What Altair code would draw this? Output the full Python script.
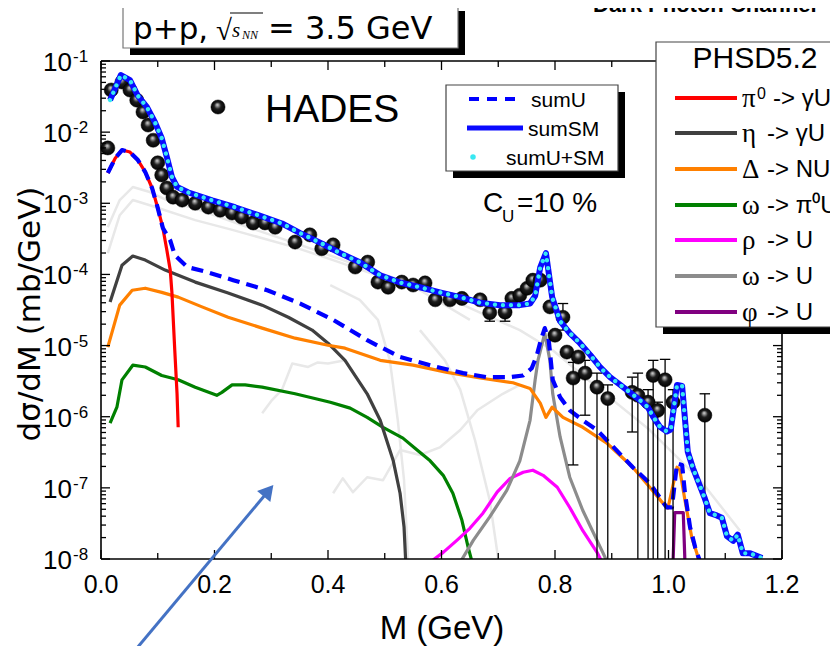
import altair as alt
import pandas as pd

# ---------------- data ----------------
sumSM_M = [0.016,0.035,0.051,0.065,0.081,0.095,0.107,0.116,0.125,0.134,0.153,0.196,0.236,0.277,0.319,
           0.351,0.386,0.421,0.456,0.492,0.527,0.562,0.597,0.633,0.668,0.703,0.738,0.756,0.765,0.774,
           0.784,0.795,0.809,0.826,0.844,0.862,0.879,0.897,0.915,0.932,0.950,0.964,0.973,0.985,0.997,
           1.004,1.015,1.024,1.034,1.043,1.064,1.073,1.085,1.094,1.103,1.114,1.122,1.131,1.144,1.165]
sumSM_Y = [2.82e-2,6.35e-2,5.4e-2,3.24e-2,2.24e-2,1.38e-2,8.2e-3,4.47e-3,2.34e-3,1.7e-3,1.43e-3,1.1e-3,8.8e-4,6.8e-4,5.2e-4,
           3.8e-4,2.8e-4,2.0e-4,1.48e-4,9.7e-5,7.7e-5,6.6e-5,5.6e-5,4.8e-5,4.0e-5,3.7e-5,3.7e-5,3.9e-5,5.0e-5,1.26e-4,
           2.0e-4,4.8e-5,2.2e-5,1.5e-5,1.08e-5,7.4e-6,5.0e-6,3.6e-6,2.8e-6,2.2e-6,1.7e-6,1.35e-6,1.0e-6,7.2e-7,6.2e-7,
           6.6e-7,2.8e-6,2.7e-6,3.2e-7,1.9e-7,7.1e-8,4.4e-8,4.1e-8,3.8e-8,2.1e-8,1.8e-8,2.2e-8,1.2e-8,1.2e-8,1.03e-8]
# sumU+SM dots lie on the sumSM line in the picture
sumUSM_M = sumSM_M
sumUSM_Y = sumSM_Y

sumU_M = [0.012,0.025,0.037,0.051,0.065,0.078,0.090,0.100,0.109,0.122,0.130,0.152,0.187,0.233,0.293,
          0.351,0.409,0.469,0.527,0.592,0.638,0.680,0.721,0.744,0.759,0.768,0.775,0.782,0.789,0.796,
          0.809,0.826,0.849,0.874,0.897,0.937,0.967,0.997,1.006,1.015,1.024,1.029,1.038,1.047,1.056]
sumU_Y = [2.66e-3,4.3e-3,5.6e-3,5.25e-3,4.05e-3,2.75e-3,1.64e-3,8.6e-4,4.5e-4,3.0e-4,1.87e-4,1.27e-4,1.08e-4,8.3e-5,6.0e-5,
          3.9e-5,2.3e-5,1.19e-5,6.9e-6,5.0e-6,4.1e-6,3.6e-6,3.6e-6,3.8e-6,4.8e-6,7.3e-6,1.19e-5,1.76e-5,1.19e-5,3.3e-6,
          1.88e-6,1.23e-6,8.9e-7,6.5e-7,4.2e-7,1.95e-7,1.16e-7,5.3e-8,5.3e-8,2.2e-7,2.1e-7,8.4e-8,2.8e-8,1.46e-8,9e-9]

pi0_M = [0.012,0.025,0.037,0.051,0.065,0.078,0.090,0.100,0.109,0.116,0.122,0.125,0.130,0.134,0.136]
pi0_Y = [2.66e-3,4.3e-3,5.6e-3,5.25e-3,4.05e-3,2.75e-3,1.64e-3,8.6e-4,4.5e-4,2.2e-4,1.15e-4,5.5e-5,8.6e-6,2.1e-6,7.1e-7]

eta_M = [0.016,0.037,0.056,0.078,0.113,0.166,0.224,0.284,0.330,0.372,0.400,0.430,0.469,0.492,0.515,0.527,0.534,0.537]
eta_Y = [4.1e-5,1.35e-4,1.81e-4,1.59e-4,1.15e-4,7.8e-5,5.5e-5,3.7e-5,2.5e-5,1.65e-5,1.08e-5,6.2e-6,2.1e-6,8.9e-7,2.4e-7,8.4e-8,2.8e-8,9e-9]

delta_M = [0.012,0.033,0.055,0.078,0.107,0.136,0.178,0.224,0.284,0.342,0.400,0.430,0.492,0.550,0.610,0.668,0.726,
           0.756,0.774,0.784,0.795,0.814,0.849,0.892,0.937,0.967,0.990,0.999,1.015,1.020,1.029,1.041,1.050,1.054]
delta_Y = [9.5e-6,3.7e-5,6.0e-5,6.4e-5,5.6e-5,4.8e-5,3.5e-5,2.5e-5,1.76e-5,1.27e-5,1.01e-5,9.2e-6,6.2e-6,5.3e-6,4.2e-6,3.5e-6,3.0e-6,
           2.5e-6,1.55e-6,9.8e-7,1.36e-6,9.8e-7,7.1e-7,4.2e-7,1.95e-7,1.02e-7,6.1e-8,5.2e-8,1.95e-7,1.77e-7,6.7e-8,2.0e-8,1.2e-8,9e-9]

omegapi_M = [0.016,0.028,0.037,0.056,0.078,0.107,0.136,0.166,0.204,0.213,0.231,0.254,0.284,0.342,0.404,0.439,
             0.469,0.497,0.532,0.557,0.580,0.603,0.620,0.636,0.647,0.654]
omegapi_Y = [8.1e-7,1.36e-6,3.3e-6,5.3e-6,5.0e-6,3.8e-6,3.3e-6,2.6e-6,2.0e-6,2.2e-6,2.8e-6,2.8e-6,2.6e-6,2.1e-6,1.6e-6,1.32e-6,
             9.8e-7,7.1e-7,5.0e-7,3.4e-7,2.4e-7,1.5e-7,8.4e-8,3.5e-8,1.46e-8,9e-9]

rho_M = [0.580,0.603,0.627,0.650,0.673,0.698,0.721,0.744,0.761,0.779,0.804,0.826,0.849,0.874,0.883]
rho_Y = [9e-9,1.24e-8,1.83e-8,2.7e-8,4.4e-8,8.7e-8,1.36e-7,1.66e-7,1.77e-7,1.5e-7,1.02e-7,5.3e-8,2.5e-8,1.24e-8,9e-9]

omega_M = [0.633,0.656,0.685,0.715,0.738,0.756,0.765,0.770,0.782,0.791,0.796,0.809,0.826,0.849,0.874,0.885,0.892]
omega_Y = [9e-9,1.83e-8,3.9e-8,9.2e-8,2.4e-7,8.9e-7,3.3e-6,6.2e-6,1.49e-5,6.2e-6,2.1e-6,5.2e-7,1.41e-7,4.8e-8,1.83e-8,1.2e-8,9e-9]

phi_M = [1.008,1.011,1.026,1.029]
phi_Y = [9e-9,4.5e-8,4.5e-8,9e-9]

hades_M = [0.012,0.018,0.037,0.051,0.063,0.074,0.083,0.092,0.100,0.107,0.116,0.127,0.143,0.166,0.189,0.210,0.231,0.248,
           0.268,0.289,0.307,0.342,0.368,0.389,0.409,0.448,0.470,0.488,0.506,0.530,0.550,0.571,0.589,0.615,0.636,0.668,
           0.685,0.712,0.724,0.738,0.751,0.761,0.774,0.791,0.800,0.814,0.821,0.832,0.841,0.853,0.874,0.893,0.936,0.946,
           0.964,0.973,0.981,0.994,1.008,1.064]
hades_Y = [6.0e-3,3.91e-2,5.07e-2,3.91e-2,2.82e-2,1.92e-2,1.26e-2,7.7e-3,3.7e-3,2.5e-3,1.64e-3,1.22e-3,1.11e-3,1.0e-3,8.85e-4,
           8.0e-4,7.3e-4,6.4e-4,5.3e-4,5.3e-4,4.6e-4,2.85e-4,3.6e-4,2.3e-4,2.6e-4,1.27e-4,1.49e-4,7.8e-5,6.6e-5,7.8e-5,
           7.1e-5,7.6e-5,4.4e-5,4.4e-5,4.6e-5,4.4e-5,2.9e-5,2.95e-5,4.6e-5,5.1e-5,6.4e-5,8.3e-5,8.3e-5,3.5e-5,1.4e-5,
           2.5e-5,8.1e-6,3.5e-6,6.9e-6,4.1e-6,2.6e-6,1.8e-6,2.2e-6,2.0e-6,1.6e-6,3.8e-6,1.23e-6,3.3e-6,1.6e-6,1.05e-6]

err_M = [0.685,0.712,0.814,0.832,0.853,0.874,0.893,0.936,0.946,0.964,0.973,0.981,0.994,1.008,1.064]
err_hi = [3.6e-5,3.7e-5,3.9e-5,5.8e-6,6.2e-6,4.1e-6,2.8e-6,3.6e-6,4.1e-6,2.4e-6,6.2e-6,1.6e-6,6.4e-6,2.4e-6,2.1e-6]
err_lo = [2.2e-5,2.2e-5,1.65e-5,2.1e-7,1.05e-6,1e-8,1e-8,6.1e-7,1e-8,1e-8,1e-8,1e-8,1e-8,1e-8,1e-8]

# faint grey background curves
fA_M = [0.012,0.033,0.056,0.086,0.116,0.174,0.263,0.351,0.492,0.580,0.668,0.738,0.796,0.879,0.967,1.056,1.126]
fA_Y = [4.6e-4,1.11e-3,1.69e-3,1.44e-3,1.11e-3,8.0e-4,4.5e-4,2.6e-4,1.04e-4,6.0e-5,2.9e-5,1.65e-5,8.6e-6,2.4e-6,6.5e-7,1.28e-7,2.5e-8]
fB_M = [0.012,0.033,0.056,0.086,0.166,0.233,0.342,0.409,0.562,0.650]
fB_Y = [2.0e-4,6.8e-4,1.11e-3,9.4e-4,5.8e-4,4.2e-4,2.4e-4,1.59e-4,6.0e-5,2.3e-5]
fC_M = [0.404,0.456,0.488,0.509,0.523,0.534,0.541]
fC_Y = [7.1e-5,4.4e-5,2.3e-5,6.2e-6,8.9e-7,1.28e-7,1e-8]
fD_M = [0.562,0.606,0.633,0.659,0.685,0.700]
fD_Y = [1.65e-5,6.2e-6,2.4e-6,4.7e-7,6.7e-8,1e-8]
fE_M = [0.409,0.426,0.444,0.469,0.497,0.527,0.562,0.597,0.633,0.663,0.708,0.738]
fE_Y = [8.4e-8,1.36e-7,8.7e-8,1.41e-7,1.28e-7,3.4e-7,2.9e-7,3.7e-7,6.5e-7,1.23e-6,2.1e-6,2.8e-6]
fF_M = [0.284,0.301,0.319,0.337,0.365,0.382,0.400,0.430]
fF_Y = [1.12e-6,1.7e-6,2.4e-6,5.6e-6,5.0e-6,5.8e-6,5.6e-6,6.2e-6]

arrow_M = [0.060, 0.2952]
arrow_Y = [5.2e-10, 9.1e-8]

# axis ticks / labels
y_dec = [1e-1,1e-2,1e-3,1e-4,1e-5,1e-6,1e-7,1e-8]
y_exp = ["-1","-2","-3","-4","-5","-6","-7","-8"]
x_major = [0.0,0.2,0.4,0.6,0.8,1.0,1.2]
x_labels = ["0.0","0.2","0.4","0.6","0.8","1.0","1.2"]
x_minor = [0.1,0.3,0.5,0.7,0.9,1.1]
y_minor = [k * d for d in [1e-8,1e-7,1e-6,1e-5,1e-4,1e-3,1e-2] for k in range(2, 10)]

legend_sym = ["\u03c0", "\u03b7", "\u0394", "\u03c9", "\u03c1", "\u03c9", "\u03c6"]
legend_sup = ["0", "", "", "", "", "", ""]
legend_rest = ["-> \u03b3U", "-> \u03b3U", "-> NU", "-> \u03c0\u2070U", "-> U", "-> U", "-> U"]
legend_col = ["#ff0000", "#404040", "#ff8000", "#008000", "#ff00ff", "#8c8c8c", "#800080"]

for a, b in [(sumSM_M, sumSM_Y), (sumU_M, sumU_Y), (pi0_M, pi0_Y), (eta_M, eta_Y), (delta_M, delta_Y),
             (omegapi_M, omegapi_Y), (rho_M, rho_Y), (omega_M, omega_Y), (hades_M, hades_Y), (err_M, err_hi),
             (err_M, err_lo), (fA_M, fA_Y), (fB_M, fB_Y), (fC_M, fC_Y), (fD_M, fD_Y), (fE_M, fE_Y), (fF_M, fF_Y)]:
    assert len(a) == len(b), (len(a), len(b))

# ---------------- chart ----------------
W, H = 681, 498
SANS = "Liberation Sans"
SERIF = "Liberation Serif"
WIDE = "DejaVu Sans"
xs = alt.Scale(domain=[0, 1.2], nice=False, zero=False)
ys = alt.Scale(type="log", domain=[1e-8, 1e-1], nice=False)
one = pd.DataFrame({"a": [0]})


def XQ(f="M"):
    return alt.X(f"{f}:Q", scale=xs, axis=None)


def YQ(f="Y"):
    return alt.Y(f"{f}:Q", scale=ys, axis=None)


def line(M, Y, color, width, dash=None, cap="butt", clip=True):
    kw = dict(color=color, strokeWidth=width, clip=clip, strokeCap=cap, strokeJoin="round")
    if dash is not None:
        kw["strokeDash"] = dash
    return alt.Chart(pd.DataFrame({"M": M, "Y": Y})).mark_line(**kw).encode(x=XQ(), y=YQ())


def prect(x1, y1, x2, y2, fill, stroke=None, sw=0):
    kw = dict(fill=fill, opacity=1)
    if stroke:
        kw.update(stroke=stroke, strokeWidth=sw)
    return alt.Chart(one).mark_rect(**kw).encode(
        x=alt.value(x1), x2=alt.value(x2), y=alt.value(y1), y2=alt.value(y2))


def prule(x1, y1, x2, y2, color="black", sw=1.5, dash=None):
    kw = dict(color=color, strokeWidth=sw)
    if dash is not None:
        kw["strokeDash"] = dash
    return alt.Chart(one).mark_rule(**kw).encode(
        x=alt.value(x1), x2=alt.value(x2), y=alt.value(y1), y2=alt.value(y2))


def ptext(x, y, s, size, font=SANS, align="left", baseline="alphabetic", **kw):
    return alt.Chart(one).mark_text(text=s, fontSize=size, font=font, align=align,
                                    baseline=baseline, color="black", **kw).encode(
        x=alt.value(x), y=alt.value(y))


ball_fill = {"gradient": "radial", "x1": 0.45, "y1": 0.33, "r1": 0.0, "x2": 0.5, "y2": 0.5, "r2": 0.55,
             "stops": [{"offset": 0, "color": "#e0e0e0"}, {"offset": 0.2, "color": "#8a8a8a"},
                       {"offset": 0.45, "color": "#1c1c1c"}, {"offset": 1, "color": "#000000"}]}

layers = []
faint = "#e8e8e8"
for M, Y in [(fA_M, fA_Y), (fB_M, fB_Y), (fC_M, fC_Y), (fD_M, fD_Y), (fE_M, fE_Y), (fF_M, fF_Y)]:
    layers.append(line(M, Y, faint, 2.5))

layers += [
    line(omegapi_M, omegapi_Y, "#008000", 3.2),
    line(rho_M, rho_Y, "#ff00ff", 3.2),
    line(omega_M, omega_Y, "#8c8c8c", 3.2),
    line(eta_M, eta_Y, "#404040", 3.2),
    line(delta_M, delta_Y, "#ff8000", 3.2),
    line(phi_M, phi_Y, "#800080", 3.2),
    line(pi0_M, pi0_Y, "#ff0000", 3.2),
    line(sumU_M, sumU_Y, "#0000ff", 4.2, dash=[12, 7]),
]

err_df = pd.DataFrame({"M": err_M, "lo": err_lo, "hi": err_hi})
layers.append(alt.Chart(err_df).mark_rule(color="black", strokeWidth=1.3, clip=True).encode(
    x=XQ(), y=YQ("lo"), y2="hi:Q"))
layers.append(alt.Chart(err_df).mark_point(shape="stroke", size=110, color="black", strokeWidth=1.3,
                                           opacity=1).encode(x=XQ(), y=YQ("hi")))
layers.append(alt.Chart(err_df[err_df["lo"] > 1e-8]).mark_point(shape="stroke", size=110, color="black",
                                                                strokeWidth=1.3, opacity=1).encode(
    x=XQ(), y=YQ("lo")))

layers.append(alt.Chart(pd.DataFrame({"M": hades_M, "Y": hades_Y})).mark_circle(
    size=200, fill=ball_fill, opacity=1, stroke="#000000", strokeWidth=0.5).encode(x=XQ(), y=YQ()))

layers.append(line(sumSM_M, sumSM_Y, "#0a0aff", 6))
layers.append(line(sumUSM_M, sumUSM_Y, "#38e8f2", 4.3, dash=[0.01, 8], cap="round"))

# frame
layers += [prule(0, 0, W, 0, sw=1.6), prule(0, H, W, H, sw=1.6), prule(0, 0, 0, H, sw=1.6), prule(W, 0, W, H, sw=1.6)]

# inward ticks
ymaj = pd.DataFrame({"v": y_dec, "e": y_exp})
ymin = pd.DataFrame({"v": y_minor})
xmaj = pd.DataFrame({"v": x_major, "t": x_labels})
xmin = pd.DataFrame({"v": x_minor})
tk = dict(color="black", strokeWidth=1.3)
layers += [
    alt.Chart(ymaj).mark_rule(**tk).encode(y=YQ("v"), x=alt.value(0), x2=alt.value(9)),
    alt.Chart(ymin).mark_rule(**tk).encode(y=YQ("v"), x=alt.value(0), x2=alt.value(5)),
    alt.Chart(ymaj).mark_rule(**tk).encode(y=YQ("v"), x=alt.value(W), x2=alt.value(W - 9)),
    alt.Chart(ymin).mark_rule(**tk).encode(y=YQ("v"), x=alt.value(W), x2=alt.value(W - 5)),
    alt.Chart(xmaj).mark_rule(**tk).encode(x=XQ("v"), y=alt.value(H), y2=alt.value(H - 9)),
    alt.Chart(xmin).mark_rule(**tk).encode(x=XQ("v"), y=alt.value(H), y2=alt.value(H - 6)),
    alt.Chart(xmaj).mark_rule(**tk).encode(x=XQ("v"), y=alt.value(0), y2=alt.value(9)),
    alt.Chart(xmin).mark_rule(**tk).encode(x=XQ("v"), y=alt.value(0), y2=alt.value(6)),
]

# tick labels
layers += [
    alt.Chart(ymaj).mark_text(text="10", fontSize=26, font=SANS, align="right", baseline="alphabetic",
                              dy=10, color="black").encode(x=alt.value(-29), y=YQ("v")),
    alt.Chart(ymaj).mark_text(fontSize=17, font=SANS, align="left", baseline="alphabetic", dy=1,
                              color="black").encode(x=alt.value(-28), y=YQ("v"), text="e:N"),
    alt.Chart(xmaj).mark_text(fontSize=25, font=SANS, align="center", baseline="alphabetic",
                              color="black").encode(x=XQ("v"), y=alt.value(532), text="t:N"),
]

# axis titles
layers += [
    ptext(-61, 253, "d\u03c3/dM (mb/GeV)", 31, font=WIDE, align="center", angle=270),
    ptext(341, 578, "M (GeV)", 33, align="center"),
]

# top title box
layers += [
    prect(29, -50, 364, -6, "black"),
    prect(22, -57, 357, -13, "white", stroke="#777777", sw=1.2),
    ptext(32, -22, "p+p,", 31, font=WIDE),
    ptext(115, -21, "\u221a", 29, font=SERIF),
    prule(129, -48, 162, -48, sw=1.2),
    ptext(131, -24, "s", 21, font=SERIF, fontStyle="italic"),
    ptext(141, -22, "NN", 12, font=SERIF, fontStyle="italic"),
    ptext(167, -22, "= 3.5 GeV", 32, font=WIDE),
    ptext(492, -49, "Dark Photon Channel", 22, fontWeight="bold"),
]

# HADES legend
layers += [
    alt.Chart(one).mark_circle(size=200, fill=ball_fill, opacity=1, stroke="#000000", strokeWidth=0.5).encode(
        x=alt.value(117), y=alt.value(46)),
    ptext(164, 61, "HADES", 39),
]

# sum legend box
layers += [
    prect(352, 31, 524, 117, "black"),
    prect(345, 24, 517, 110, "white", stroke="#444444", sw=1.2),
    prule(368, 38, 416, 38, color="#0000ff", sw=4, dash=[10, 8]),
    ptext(430, 46, "sumU", 21),
    prule(366, 67, 422, 67, color="#0a0aff", sw=5),
    ptext(427, 75, "sumSM", 21),
    alt.Chart(one).mark_circle(size=30, color="#38e8f2", opacity=1).encode(x=alt.value(372), y=alt.value(96)),
    ptext(405, 104, "sumU+SM", 21),
    ptext(382, 151, "C", 28),
    ptext(401, 161, "U", 17),
    ptext(416, 151, "=10 %", 28),
]

# PHSD legend box
layers += [
    prect(562, -12, 760, 273, "black"),
    prect(555, -19, 750, 266, "white", stroke="#444444", sw=1.2),
    ptext(654, 7, "PHSD5.2", 30, align="center"),
]
rows_y = [37, 72, 108, 144, 179, 215, 251]
for i, (sym, sup, rest, col) in enumerate(zip(legend_sym, legend_sup, legend_rest, legend_col)):
    yy = rows_y[i]
    layers += [
        prule(574, yy, 636, yy, color=col, sw=4),
        ptext(641, yy + 1, sym, 27, font=SERIF, baseline="middle"),
        ptext(672 if sup else 666, yy + 1, rest, 24, baseline="middle"),
    ]
    if sup:
        layers.append(ptext(656, yy - 4, sup, 16, baseline="middle"))

# blue arrow
layers.append(line(arrow_M, arrow_Y, "#4472c4", 3, clip=False))
layers.append(alt.Chart(pd.DataFrame({"M": [arrow_M[-1]], "Y": [arrow_Y[-1]]})).mark_point(
    shape="triangle-up", size=300, angle=40, filled=True, color="#4472c4", opacity=1).encode(x=XQ(), y=YQ()))

chart = alt.layer(*layers).properties(
    width=W, height=H,
    autosize=alt.AutoSizeParams(type="none"),
    padding={"left": 93, "top": 53, "right": 48, "bottom": 87},
).configure_view(strokeWidth=0)

chart.save("out.html", embed_options={"renderer": "svg", "actions": False})
